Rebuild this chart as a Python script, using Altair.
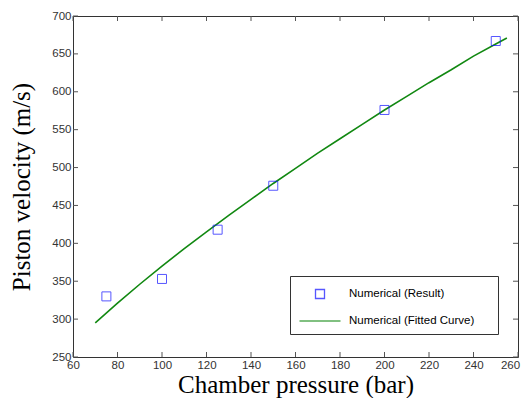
import altair as alt
import pandas as pd

# Numerical results (squares)
pressure_pts = [75, 100, 125, 150, 200, 250]
velocity_pts = [330, 353, 418, 476, 576, 667]

# Fitted curve
fit_pressure = [70, 80, 90, 100, 110, 120, 130, 140, 150, 160, 170, 180, 190,
                200, 210, 220, 230, 240, 250, 255]
fit_velocity = [295, 321, 346, 370, 393, 415, 437, 458, 479, 499, 519, 538, 557,
                576, 594, 612, 629, 647, 663, 671]

x_ticks = [60, 80, 100, 120, 140, 160, 180, 200, 220, 240, 260]
y_ticks = [250, 300, 350, 400, 450, 500, 550, 600, 650, 700]

series = ["Numerical (Result)", "Numerical (Fitted Curve)"]

W, H = 445, 341

pts = pd.DataFrame({"p": pressure_pts, "v": velocity_pts, "series": series[0]})
fit = pd.DataFrame({"p": fit_pressure, "v": fit_velocity, "series": series[1]})
xt = pd.DataFrame({"p": x_ticks})
yt = pd.DataFrame({"v": y_ticks})

xs = alt.Scale(domain=[60, 260], nice=False, zero=False)
ys = alt.Scale(domain=[250, 700], nice=False, zero=False)
cs = alt.Scale(domain=series, range=["#1010ff", "#118811"])
ss = alt.Scale(domain=series, range=["M-0.45,-0.45H0.45V0.45H-0.45Z", "M-2.05,0H2.05"])

NBSP = "\u00a0"
ZWSP = "\u200b"
leg = alt.Legend(
    title=None, orient="none", legendX=217, legendY=260,
    strokeColor="#333333", fillColor="white", padding=7,
    symbolSize=400, symbolOffset=12, labelOffset=18,
    labelFont="Liberation Sans", labelFontSize=11.5, labelColor="black",
    rowPadding=8, symbolStrokeWidth=1.3, symbolFillColor="transparent",
    labelExpr="datum.label + '" + NBSP * 5 + ZWSP + "'",
)

x_axis = alt.Axis(values=x_ticks, title="Chamber pressure (bar)", grid=False,
                  domain=False, ticks=False, labelFlush=False, labelOverlap=False,
                  labelPadding=2, titleY=35, titleBaseline="alphabetic",
                  labelExpr="datum.value == 260 ? datum.label + '" + NBSP * 5 + ZWSP + "' : datum.label")
y_axis = alt.Axis(values=y_ticks, title="Piston velocity (m/s)", grid=False,
                  domain=False, ticks=False, labelFlush=False, labelOverlap=False,
                  labelPadding=2, titleX=-44, titleY=H / 2, titleAngle=-90,
                  titleBaseline="alphabetic", titleAlign="center")

X = alt.X("p:Q", scale=xs, axis=x_axis)
Y = alt.Y("v:Q", scale=ys, axis=y_axis)

line = alt.Chart(fit).mark_line(strokeWidth=1.6).encode(
    x=X, y=Y,
    color=alt.Color("series:N", scale=cs, legend=leg),
)

points = alt.Chart(pts).mark_point(size=400, filled=False, strokeWidth=1).encode(
    x=X, y=Y,
    color=alt.Color("series:N", scale=cs, legend=leg),
    shape=alt.Shape("series:N", scale=ss, legend=leg),
)

tick_color = "#555555"
xb = alt.Chart(xt).mark_rule(color=tick_color).encode(
    x=X, y=alt.value(H), y2=alt.value(H - 5))
xtop = alt.Chart(xt).mark_rule(color=tick_color).encode(
    x=X, y=alt.value(0), y2=alt.value(5))
yl = alt.Chart(yt).mark_rule(color=tick_color).encode(
    y=Y, x=alt.value(0), x2=alt.value(5))
yr = alt.Chart(yt).mark_rule(color=tick_color).encode(
    y=Y, x=alt.value(W - 5), x2=alt.value(W))

chart = alt.layer(xb, xtop, yl, yr, line, points).properties(
    width=W, height=H,
    autosize=alt.AutoSizeParams(type="none"),
    padding={"left": 65, "top": 8, "right": 3, "bottom": 41},
).configure_view(
    stroke="#333333", strokeWidth=1
).configure_axis(
    labelFont="Liberation Sans", labelFontSize=11.5, labelColor="#333333",
    titleFont="Liberation Serif", titleFontSize=25, titleFontWeight="normal",
    titleColor="black",
)

chart.save("out.html", embed_options={"renderer": "svg", "actions": False})
